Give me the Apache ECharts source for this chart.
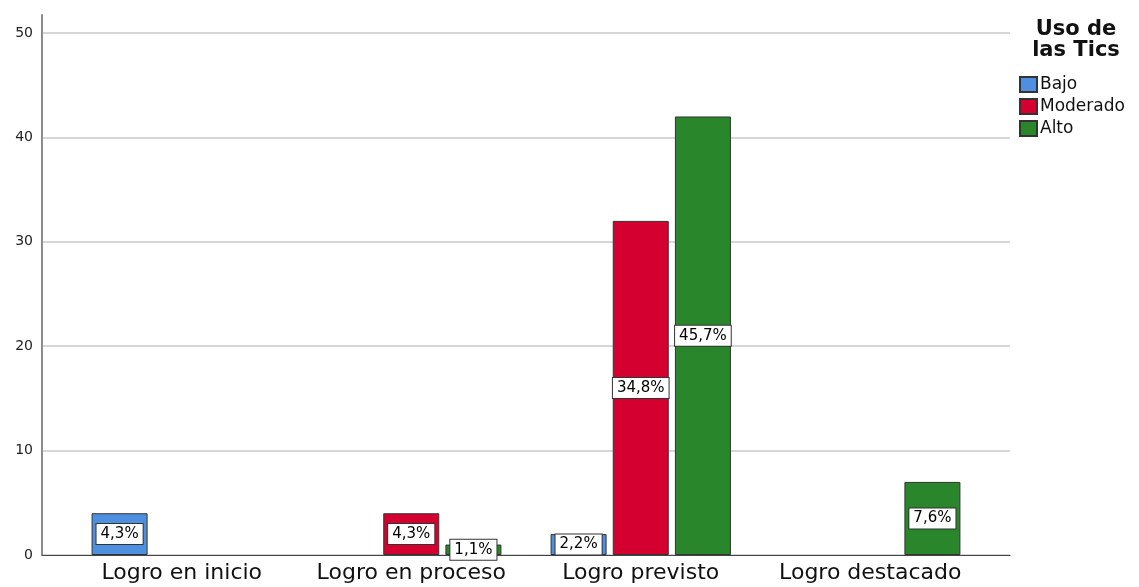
<!DOCTYPE html>
<html>
  <head>
    <meta charset="utf-8" />
    <title>Uso de las Tics</title>
    <script src="https://cdn.jsdelivr.net/npm/echarts@6/dist/echarts.min.js"></script>
  </head>
  <body style="margin:0">
    <div id="main" style="width: 1139px;height:587px; background-color: white"></div>
    <script type="text/javascript">
      var myChart = echarts.init(document.getElementById('main'));

      // categorias del eje X
      var categories = ['Logro en inicio', 'Logro en proceso', 'Logro previsto', 'Logro destacado'];
      // series (Uso de las Tics)
      var seriesNames = ['Bajo', 'Moderado', 'Alto'];
      var bajo = [4, 0, 2, 0];
      var moderado = [0, 4, 32, 0];
      var alto = [0, 1, 42, 7];
      var yTicks = [0, 10, 20, 30, 40, 50];

      var colors = ['#4f8fe0', '#d4002f', '#2a862a'];
      var allValues = [bajo, moderado, alto];

      // total para los porcentajes
      var total = 0;
      allValues.forEach(function (arr) {
        arr.forEach(function (v) { total += v; });
      });

      var yMax = 51.72;
      var font = 'DejaVu Sans';

      var series = seriesNames.map(function (name, i) {
        return {
          name: name,
          type: 'bar',
          xAxisIndex: 1,
          yAxisIndex: 1,
          barWidth: 56,
          barGap: '11%',
          itemStyle: {
            color: colors[i],
            borderColor: '#333333',
            borderWidth: 1
          },
          label: {
            show: true,
            position: 'inside',
            color: '#000',
            fontFamily: font,
            fontSize: 15,
            backgroundColor: '#ffffff',
            borderColor: '#333333',
            borderWidth: 1,
            padding: [3, 4, 2, 4],
            formatter: function (p) {
              return (p.value / total * 100).toFixed(1).replace('.', ',') + '%';
            }
          },
          // las celdas vacias no se dibujan
          data: allValues[i].map(function (v) { return v === 0 ? '-' : v; })
        };
      });

      var option = {
        animation: false,
        grid: [
          { left: 42, right: 129, top: 15, bottom: 32 },
          { left: 67, right: 154, top: 15, bottom: 32 }
        ],
        xAxis: [
          {
            gridIndex: 0,
            type: 'category',
            data: categories,
            axisLine: { lineStyle: { color: '#444444', width: 1 } },
            axisTick: { show: false },
            axisLabel: { show: false }
          },
          {
            gridIndex: 1,
            type: 'category',
            data: categories,
            axisLine: { show: false },
            axisTick: { show: false },
            axisLabel: {
              interval: 0,
              color: '#111',
              fontFamily: font,
              fontSize: 22,
              margin: 7
            }
          }
        ],
        yAxis: [
          {
            gridIndex: 0,
            type: 'value',
            min: yTicks[0],
            max: yMax,
            interval: 10,
            axisLine: { show: true, lineStyle: { color: '#8c8c8c', width: 2 } },
            axisTick: { show: false },
            axisLabel: {
              color: '#222',
              fontFamily: font,
              fontSize: 14,
              margin: 9,
              showMaxLabel: false
            },
            splitLine: {
              show: true,
              showMaxLine: false,
              lineStyle: { color: '#c8c8c8', width: 1.5 }
            }
          },
          {
            gridIndex: 1,
            type: 'value',
            min: yTicks[0],
            max: yMax,
            show: false,
            splitLine: { show: false }
          }
        ],
        legend: {
          orient: 'vertical',
          left: 1014,
          top: 71,
          itemWidth: 17,
          itemHeight: 15,
          itemGap: 5,
          icon: 'rect',
          data: seriesNames,
          textStyle: {
            color: '#111',
            fontFamily: font,
            fontSize: 17,
            padding: [0, 0, 0, -2]
          }
        },
        graphic: [
          {
            type: 'text',
            x: 1076,
            y: 19,
            style: {
              text: 'Uso de\nlas Tics',
              align: 'center',
              verticalAlign: 'top',
              font: 'bold 21px "DejaVu Sans"',
              lineHeight: 21,
              fill: '#111'
            }
          }
        ],
        series: series
      };

      myChart.setOption(option);
    </script>
  </body>
</html>
